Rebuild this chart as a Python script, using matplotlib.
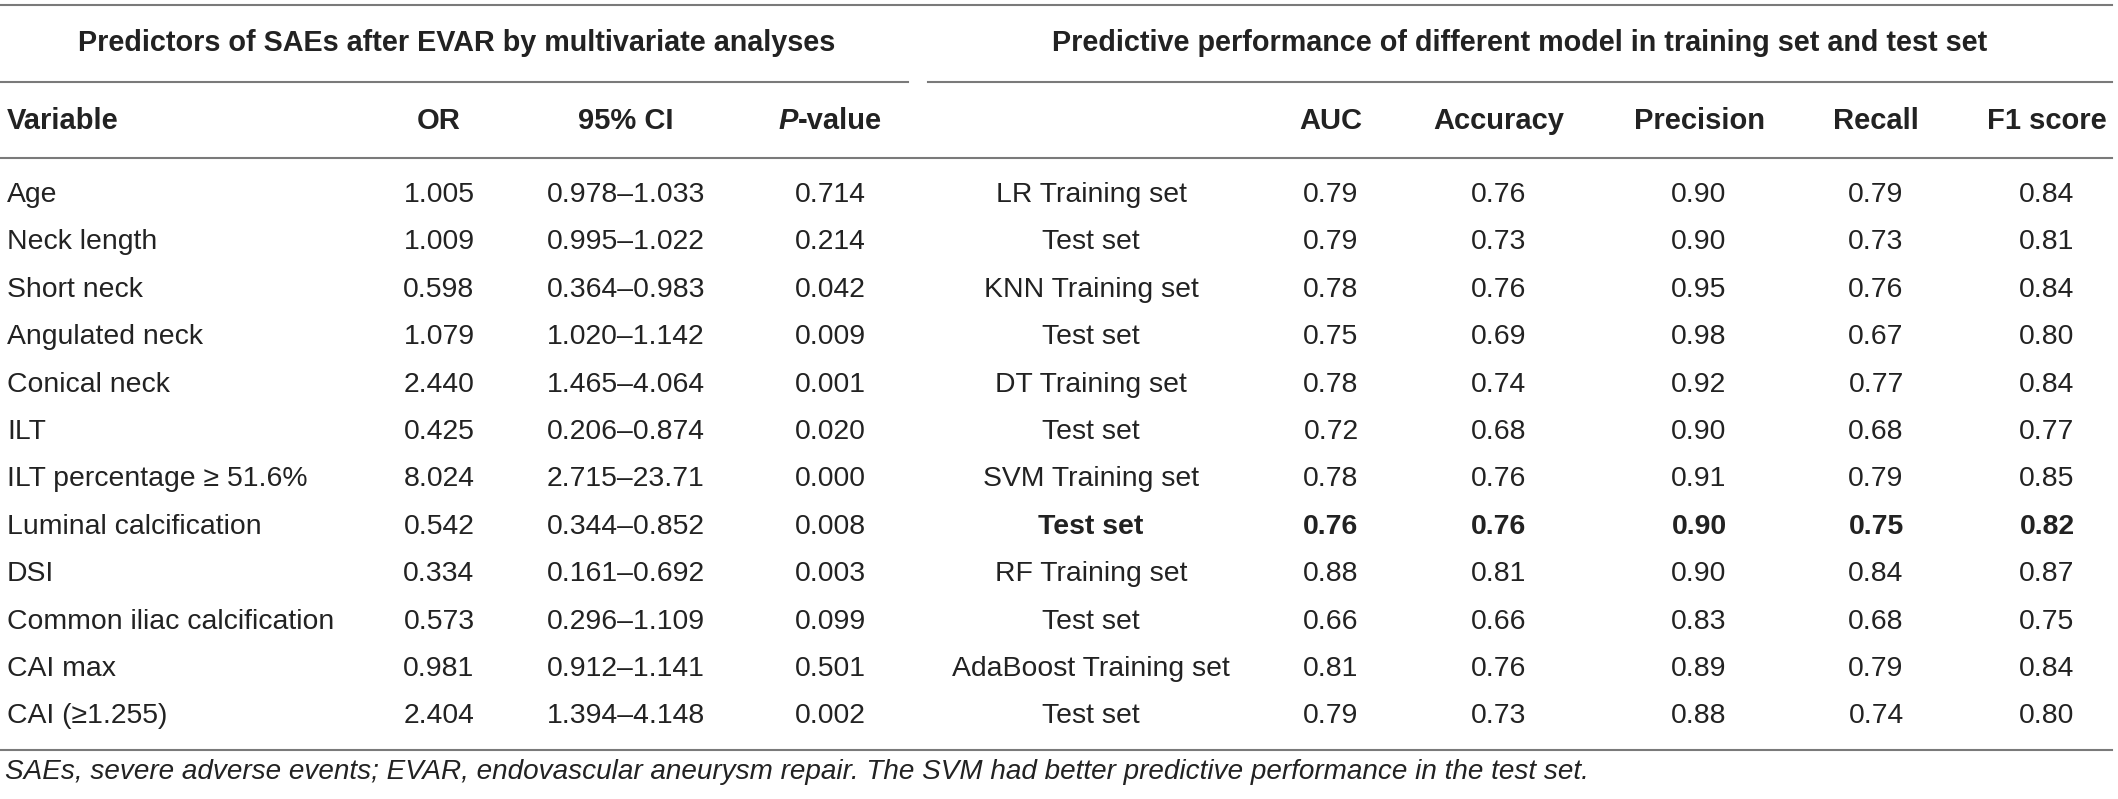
import matplotlib
matplotlib.use("Agg")
import matplotlib.pyplot as plt

plt.rcParams['font.family'] = ['Liberation Sans', 'DejaVu Sans']

# left table: multivariate predictors
variables = ["Age", "Neck length", "Short neck", "Angulated neck", "Conical neck", "ILT",
             "ILT percentage \u2265 51.6%", "Luminal calcification", "DSI",
             "Common iliac calcification", "CAI max", "CAI (\u22651.255)"]
odds = ["1.005", "1.009", "0.598", "1.079", "2.440", "0.425",
        "8.024", "0.542", "0.334", "0.573", "0.981", "2.404"]
ci95 = ["0.978\u20131.033", "0.995\u20131.022", "0.364\u20130.983", "1.020\u20131.142",
        "1.465\u20134.064", "0.206\u20130.874", "2.715\u201323.71", "0.344\u20130.852",
        "0.161\u20130.692", "0.296\u20131.109", "0.912\u20131.141", "1.394\u20134.148"]
pvals = ["0.714", "0.214", "0.042", "0.009", "0.001", "0.020",
         "0.000", "0.008", "0.003", "0.099", "0.501", "0.002"]

# right table: model performance
models = ["LR Training set", "Test set", "KNN Training set", "Test set",
          "DT Training set", "Test set", "SVM Training set", "Test set",
          "RF Training set", "Test set", "AdaBoost Training set", "Test set"]
auc = ["0.79", "0.79", "0.78", "0.75", "0.78", "0.72", "0.78", "0.76", "0.88", "0.66", "0.81", "0.79"]
accuracy = ["0.76", "0.73", "0.76", "0.69", "0.74", "0.68", "0.76", "0.76", "0.81", "0.66", "0.76", "0.73"]
precision = ["0.90", "0.90", "0.95", "0.98", "0.92", "0.90", "0.91", "0.90", "0.90", "0.83", "0.89", "0.88"]
recall = ["0.79", "0.73", "0.76", "0.67", "0.77", "0.68", "0.79", "0.75", "0.84", "0.68", "0.79", "0.74"]
f1 = ["0.84", "0.81", "0.84", "0.80", "0.84", "0.77", "0.85", "0.82", "0.87", "0.75", "0.84", "0.80"]
best_row = 7  # SVM test set

left_title = "Predictors of SAEs after EVAR by multivariate analyses"
right_title = "Predictive performance of different model in training set and test set"
left_heads = ["Variable", "OR", "95% CI"]
right_heads = ["AUC", "Accuracy", "Precision", "Recall", "F1 score"]
caption = ("SAEs, severe adverse events; EVAR, endovascular aneurysm repair. "
           "The SVM had better predictive performance in the test set.")

W, H = 2118, 799
fig = plt.figure(figsize=(W / 100, H / 100), dpi=100)
ax = fig.add_axes([0, 0, 1, 1])
ax.set_xlim(0, W)
ax.set_ylim(H, 0)
ax.axis('off')

fs_body = 20.4
fs_head = 21.0
fs_title = 20.7
fs_cap = 20.1
txt = '#222222'
line_c = '#7a7a7a'
xr = 2112

# rules
ax.plot([0, xr], [5, 5], color=line_c, lw=1.5)
ax.plot([0, 908], [82, 82], color=line_c, lw=1.5)
ax.plot([928, xr], [82, 82], color=line_c, lw=1.5)
ax.plot([0, xr], [158, 158], color=line_c, lw=1.5)
ax.plot([0, xr], [750, 750], color=line_c, lw=1.5)

# group titles
ax.text(457, 43, left_title, ha='center', va='center', fontsize=fs_title, fontweight='bold', color=txt)
ax.text(1520, 43, right_title, ha='center', va='center', fontsize=fs_title, fontweight='bold', color=txt)

# column headers
lx = [7, 439, 626, 830]
rx = [1091, 1331, 1499, 1699, 1876, 2047]
hy = 121
ax.text(lx[0], hy, left_heads[0], ha='left', va='center', fontsize=fs_head, fontweight='bold', color=txt)
ax.text(lx[1], hy, left_heads[1], ha='center', va='center', fontsize=fs_head, fontweight='bold', color=txt)
ax.text(lx[2], hy, left_heads[2], ha='center', va='center', fontsize=fs_head, fontweight='bold', color=txt)

# "P-value" with italic P, centred on its column
tp = ax.text(0, hy, "P", ha='left', va='center', fontsize=fs_head, fontweight='bold',
             style='italic', color=txt)
tv = ax.text(0, hy, "-value", ha='left', va='center', fontsize=fs_head, fontweight='bold', color=txt)
fig.canvas.draw()
r = fig.canvas.get_renderer()
wp = tp.get_window_extent(r).width
wv = tv.get_window_extent(r).width
x0 = lx[3] - (wp + wv) / 2
tp.set_x(x0)
tv.set_x(x0 + wp)

for x, h in zip(rx[1:], right_heads):
    ax.text(x, hy, h, ha='center', va='center', fontsize=fs_head, fontweight='bold', color=txt)

# body rows
y0, dy = 195, 47.4
for i in range(len(variables)):
    y = y0 + i * dy
    ax.text(lx[0], y, variables[i], ha='left', va='center', fontsize=fs_body, color=txt)
    ax.text(lx[1], y, odds[i], ha='center', va='center', fontsize=fs_body, color=txt)
    ax.text(lx[2], y, ci95[i], ha='center', va='center', fontsize=fs_body, color=txt)
    ax.text(lx[3], y, pvals[i], ha='center', va='center', fontsize=fs_body, color=txt)
    w = 'bold' if i == best_row else 'normal'
    row = [models[i], auc[i], accuracy[i], precision[i], recall[i], f1[i]]
    for x, v in zip(rx, row):
        ax.text(x, y, v, ha='center', va='center', fontsize=fs_body, fontweight=w, color=txt)

ax.text(5, 772, caption, ha='left', va='center', fontsize=fs_cap, style='italic', color=txt)

fig.savefig("out.png", dpi=100)
